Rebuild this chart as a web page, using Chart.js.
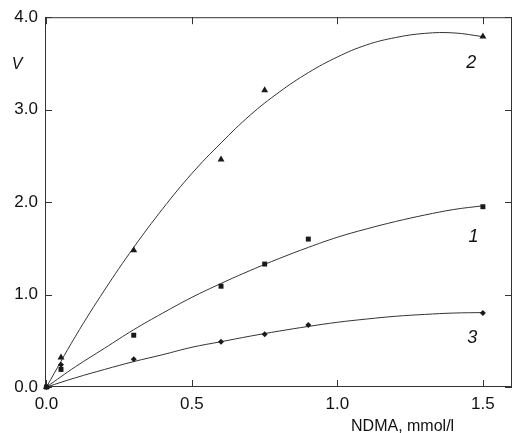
<!DOCTYPE html>
<html lang="en">

<head>
    <meta charset="UTF-8">
    <meta name="viewport" content="width=device-width, initial-scale=1.0">
    <title>V vs NDMA</title>
    <script src="https://cdn.jsdelivr.net/npm/chart.js"></script>
    <style>
        html, body { margin: 0; padding: 0; background: #fff; }
        #caixa { width: 516px; height: 433px; }
    </style>
</head>

<body>
    <div id="caixa"><canvas id="grafico"></canvas></div>

    <script>
        // measured points, curves 1, 2 and 3
        const ndma1 = [0, 0.05, 0.3, 0.6, 0.75, 0.9, 1.5];
        const v1 = [0, 0.19, 0.56, 1.09, 1.33, 1.60, 1.95];
        const ndma2 = [0, 0.05, 0.3, 0.6, 0.75, 1.5];
        const v2 = [0, 0.32, 1.48, 2.46, 3.21, 3.79];
        const ndma3 = [0, 0.05, 0.3, 0.6, 0.75, 0.9, 1.5];
        const v3 = [0, 0.24, 0.30, 0.49, 0.57, 0.67, 0.80];

        // fitted curves
        const ndmaFit = [0, 0.1, 0.2, 0.3, 0.4, 0.5, 0.6, 0.7, 0.8, 0.9, 1.0, 1.1, 1.2, 1.3, 1.4, 1.5];
        const fit1 = [0, 0.22, 0.42, 0.62, 0.80, 0.97, 1.12, 1.26, 1.39, 1.51, 1.62, 1.71, 1.79, 1.86, 1.92, 1.96];
        const fit2 = [0, 0.55, 1.05, 1.51, 1.93, 2.31, 2.64, 2.94, 3.19, 3.40, 3.57, 3.70, 3.78, 3.825, 3.83, 3.79];
        const fit3 = [0, 0.10, 0.19, 0.275, 0.35, 0.43, 0.49, 0.55, 0.605, 0.655, 0.70, 0.735, 0.765, 0.785, 0.80, 0.805];

        const xTicks = [0, 0.5, 1.0, 1.5];
        const yTicks = [0, 1, 2, 3, 4];

        const fonte = '"Liberation Sans", Arial, sans-serif';
        const cor = '#1a1a1a';

        function pontos(xs, ys) {
            return xs.map((x, i) => ({ x: x, y: ys[i] }));
        }

        function curva(ys) {
            return {
                type: 'line',
                data: pontos(ndmaFit, ys),
                borderColor: '#333',
                borderWidth: 1,
                pointRadius: 0,
                tension: 0.4,
                fill: false,
                clip: false,
                order: 2
            };
        }

        function serie(xs, ys, estilo, raio) {
            return {
                type: 'scatter',
                data: pontos(xs, ys),
                pointStyle: estilo,
                pointRadius: raio,
                backgroundColor: cor,
                borderColor: cor,
                borderWidth: 0,
                clip: false,
                order: 1
            };
        }

        // box around the plot, inward ticks, curve numbers and axis names
        const moldura = {
            id: 'moldura',
            beforeDatasetsDraw(chart) {
                const { ctx, chartArea: a, scales: { x, y } } = chart;
                const t = 7;
                ctx.save();
                ctx.strokeStyle = '#333';
                ctx.lineWidth = 1;
                ctx.strokeRect(a.left + 0.5, a.top + 0.5, a.right - a.left - 1, a.bottom - a.top - 1);
                ctx.beginPath();
                xTicks.forEach(v => {
                    const px = Math.round(x.getPixelForValue(v)) + 0.5;
                    ctx.moveTo(px, a.bottom); ctx.lineTo(px, a.bottom - t);
                    ctx.moveTo(px, a.top); ctx.lineTo(px, a.top + t);
                });
                yTicks.forEach(v => {
                    const py = Math.round(y.getPixelForValue(v)) + 0.5;
                    ctx.moveTo(a.left, py); ctx.lineTo(a.left + t, py);
                    ctx.moveTo(a.right, py); ctx.lineTo(a.right - t, py);
                });
                ctx.stroke();
                ctx.restore();
            },
            afterDraw(chart) {
                const { ctx, chartArea: a, scales: { x, y } } = chart;
                ctx.save();
                ctx.fillStyle = '#111';
                ctx.textAlign = 'center';
                ctx.textBaseline = 'middle';
                ctx.font = 'italic 18px ' + fonte;
                ctx.fillText('2', x.getPixelForValue(1.46), y.getPixelForValue(3.51));
                ctx.fillText('1', x.getPixelForValue(1.468), y.getPixelForValue(1.62));
                ctx.fillText('3', x.getPixelForValue(1.463), y.getPixelForValue(0.535));
                ctx.font = 'italic 16px ' + fonte;
                ctx.fillText('V', a.left - 28, y.getPixelForValue(3.49));
                ctx.font = '16px ' + fonte;
                ctx.fillText('NDMA, mmol/l', x.getPixelForValue(1.224), a.bottom + 40);
                ctx.restore();
            }
        };

        document.addEventListener('DOMContentLoaded', function () {
            const ctx = document.getElementById('grafico').getContext('2d');
            new Chart(ctx, {
                data: {
                    datasets: [
                        curva(fit1),
                        curva(fit2),
                        curva(fit3),
                        serie(ndma1, v1, 'rect', 3.5),
                        serie(ndma2, v2, 'triangle', 4),
                        serie(ndma3, v3, 'rectRot', 3)
                    ]
                },
                options: {
                    responsive: true,
                    maintainAspectRatio: false,
                    animation: false,
                    layout: { padding: { top: 13, right: 1, left: 0, bottom: 0 } },
                    plugins: {
                        legend: { display: false },
                        tooltip: { enabled: false }
                    },
                    scales: {
                        x: {
                            type: 'linear',
                            min: -0.005,
                            max: 1.6,
                            afterBuildTicks: s => { s.ticks = xTicks.map(v => ({ value: v })); },
                            afterFit: s => { s.height = 46; },
                            grid: { display: false, drawTicks: false },
                            border: { display: false },
                            ticks: {
                                padding: 7,
                                color: '#111',
                                font: { family: fonte, size: 17 },
                                callback: v => v.toFixed(1)
                            }
                        },
                        y: {
                            type: 'linear',
                            min: 0,
                            max: 4,
                            afterBuildTicks: s => { s.ticks = yTicks.map(v => ({ value: v })); },
                            afterFit: s => { s.width = 45; },
                            grid: { display: false, drawTicks: false },
                            border: { display: false },
                            ticks: {
                                padding: 7,
                                color: '#111',
                                font: { family: fonte, size: 17 },
                                callback: v => v.toFixed(1)
                            }
                        }
                    }
                },
                plugins: [moldura]
            });
        });
    </script>
</body>

</html>
